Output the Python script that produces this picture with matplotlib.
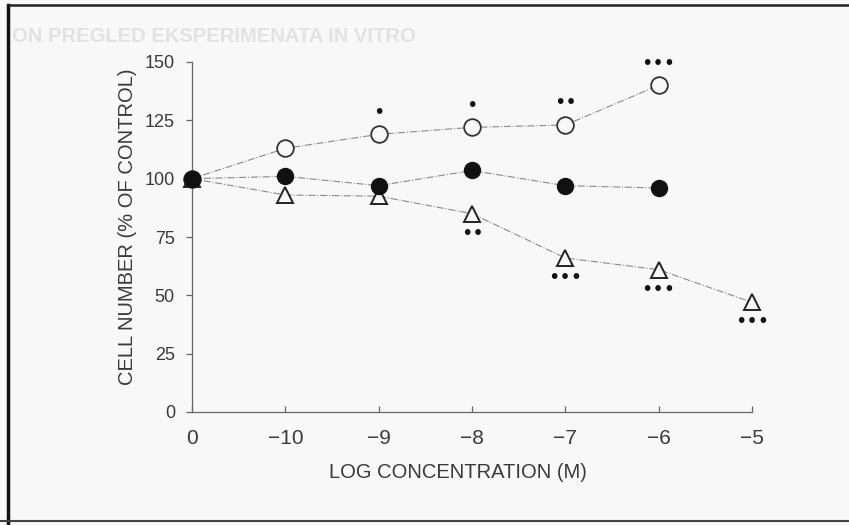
import matplotlib
matplotlib.use('Agg')
import matplotlib.pyplot as plt
from matplotlib.lines import Line2D

# data
concentrations = ['0', '\u221210', '\u22129', '\u22128', '\u22127', '\u22126', '\u22125']
open_circles = [100, 113, 119, 122, 123, 140]
filled_circles = [100, 101, 97, 103.5, 97, 96]
triangles = [100, 93, 92.5, 85, 66, 61, 47]
open_sig = ['', '', '*', '*', '**', '***']
tri_sig = ['', '', '', '**', '***', '***', '***']

plt.rcParams['font.family'] = ['Liberation Sans', 'DejaVu Sans']
ink = '#3a3a3a'
line_col = '#8a8a8a'
bg = '#f8f8f8'

W, H = 849, 525
fig = plt.figure(figsize=(W / 100, H / 100), dpi=100, facecolor=bg)
# axes box in pixel coords of the reference
left, right, top, bottom = 192, 752, 62, 412
ax = fig.add_axes([left / W, 1 - bottom / H, (right - left) / W, (bottom - top) / H])
ax.set_facecolor('none')

x = list(range(len(concentrations)))

ax.plot(x[:len(triangles)], triangles, ls='-.', lw=0.8, color=line_col,
        marker='^', ms=11, mfc=bg, mec='#222', mew=1.4, clip_on=False, zorder=3)
ax.plot(x[:len(open_circles)], open_circles, ls='-.', lw=0.8, color=line_col,
        marker='o', ms=12, mfc=bg, mec='#333', mew=1.3, clip_on=False, zorder=3)
ax.plot(x[:len(filled_circles)], filled_circles, ls='-.', lw=0.8, color=line_col,
        marker='o', ms=11.5, mfc='#111', mec='#111', clip_on=False, zorder=4)

# significance marks
for xi, yi, s in zip(x, open_circles, open_sig):
    if s:
        ax.annotate('\u2022' * len(s), (xi, yi), xytext=(0, 16), textcoords='offset points',
                    ha='center', va='center', fontsize=14, color='#111',
                    family='DejaVu Sans', annotation_clip=False)
for xi, yi, s in zip(x, triangles, tri_sig):
    if s:
        ax.annotate('\u2022' * len(s), (xi, yi), xytext=(0, -14), textcoords='offset points',
                    ha='center', va='center', fontsize=14, color='#111',
                    family='DejaVu Sans', annotation_clip=False)

ax.set_xlim(0, 6)
ax.set_ylim(0, 150)
ax.set_xticks(x)
ax.set_xticklabels(concentrations)
ax.set_yticks([0, 25, 50, 75, 100, 125, 150])
ax.set_yticklabels(['0', '25', '50', '75', '100', '125', '150'])

for s in ['top', 'right']:
    ax.spines[s].set_visible(False)
for s in ['left', 'bottom']:
    ax.spines[s].set_color('#666')
    ax.spines[s].set_linewidth(0.9)

ax.tick_params(axis='y', direction='out', length=4.3, width=0.9, colors='#666',
               labelcolor=ink, labelsize=13, pad=8)
ax.tick_params(axis='x', direction='in', length=4, width=0.9, colors='#666',
               labelcolor=ink, labelsize=15, pad=12)

ax.set_xlabel('LOG CONCENTRATION (M)', fontsize=14.5, color=ink)
ax.set_ylabel('CELL NUMBER (% OF CONTROL)', fontsize=14.5, color=ink)
ax.xaxis.set_label_coords(0.475, -0.145)
ax.yaxis.set_label_coords(-0.098, 0.529)

# faint show-through heading from the other side of the page
fig.text(12 / W, 1 - 36 / H, 'ON PREGLED EKSPERIMENATA IN VITRO', fontsize=14.5,
         fontweight='bold', color='#e2e2e2', va='center', ha='left', zorder=0)

# scan frame
fig.add_artist(Line2D([8 / W, 8 / W], [0, 1 - 5 / H], color='#111', lw=2.5))
fig.add_artist(Line2D([8 / W, 1], [1 - 5 / H, 1 - 5 / H], color='#222', lw=1.8))
fig.add_artist(Line2D([0, 1], [1 - 521 / H, 1 - 521 / H], color='#444', lw=1.5))

fig.savefig('out.png', dpi=100, facecolor=fig.get_facecolor())
